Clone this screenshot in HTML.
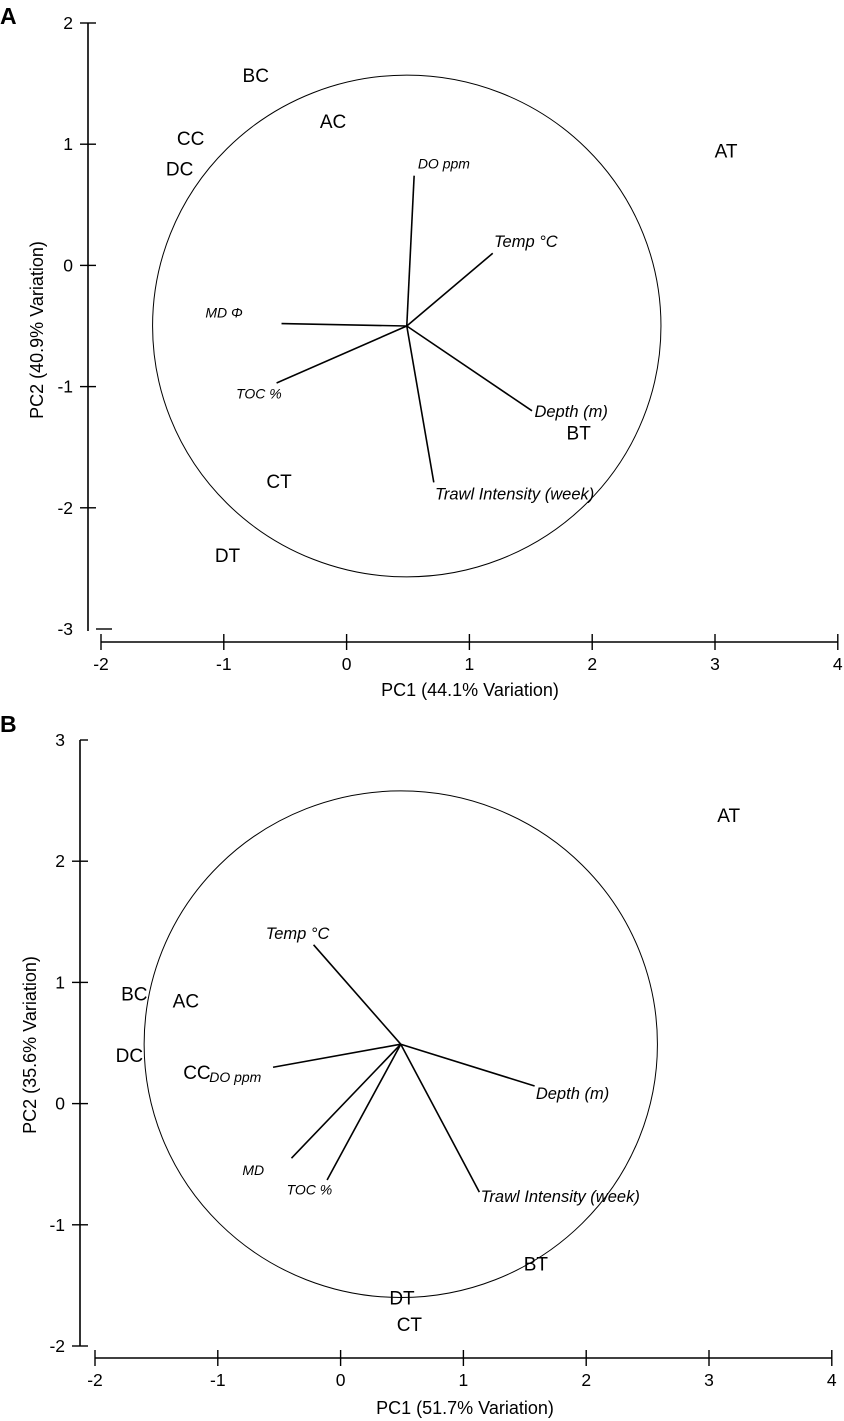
<!DOCTYPE html>
<html><head><meta charset="utf-8">
<style>
html,body{margin:0;padding:0;background:#fff;}
svg{display:block;font-family:"Liberation Sans",Arial,sans-serif;}
</style></head>
<body>
<svg id="fig" width="844" height="1421" viewBox="0 0 844 1421" xmlns="http://www.w3.org/2000/svg">
<text x="0" y="24" font-size="23" font-weight="bold">A</text>
<text x="0" y="732" font-size="23" font-weight="bold">B</text>
</svg>
<script>
// ---- Panel A data ----
const xTicksA = [-2,-1,0,1,2,3,4];
const yTicksA = [2,1,0,-1,-2,-3];
const originA = [0.49,-0.50];
const radiusA = [2.07];
const vecNamesA = ["DO ppm","Temp \u00B0C","MD \u03A6","TOC %","Depth (m)","Trawl Intensity (week)"];
const vecXA = [0.55,1.19,-0.53,-0.57,1.51,0.71];
const vecYA = [0.74,0.10,-0.48,-0.97,-1.20,-1.79];
const vecLabXA = [0.58,1.20,-1.15,-0.90,1.53,0.72];
const vecLabYA = [0.80,0.15,-0.43,-1.10,-1.25,-1.93];
const siteNamesA = ["AT","BC","AC","CC","DC","BT","CT","DT"];
const siteXA = [3.09,-0.74,-0.11,-1.27,-1.36,1.89,-0.55,-0.97];
const siteYA = [0.95,1.57,1.19,1.05,0.80,-1.38,-1.78,-2.39];

// ---- Panel B data ----
const xTicksB = [-2,-1,0,1,2,3,4];
const yTicksB = [3,2,1,0,-1,-2];
const originB = [0.49,0.49];
const radiusB = [2.09];
const vecNamesB = ["Temp \u00B0C","DO ppm","MD","TOC %","Depth (m)","Trawl Intensity (week)"];
const vecXB = [-0.22,-0.55,-0.40,-0.11,1.58,1.13];
const vecYB = [1.31,0.30,-0.45,-0.63,0.145,-0.73];
const vecLabXB = [-0.61,-1.07,-0.80,-0.44,1.59,1.14];
const vecLabYB = [1.36,0.18,-0.59,-0.75,0.04,-0.81];
const siteNamesB = ["AT","BC","AC","DC","CC","BT","DT","CT"];
const siteXB = [3.16,-1.68,-1.26,-1.72,-1.17,1.59,0.50,0.56];
const siteYB = [2.38,0.91,0.85,0.40,0.26,-1.32,-1.60,-1.82];

const NS="http://www.w3.org/2000/svg";
const svg=document.getElementById('fig');
function mk(tag,attrs,parent){const e=document.createElementNS(NS,tag);for(const k in attrs)e.setAttribute(k,attrs[k]);(parent||svg).appendChild(e);return e;}

function panel(p){
  const g=mk('g',{});
  
  
  const X=v=>p.x0+(v-p.xmin)*p.xs;
  const Y=v=>p.y0-(v-p.ymax)*p.ys;
  const ya=mk('line',{x1:p.yAxisX,x2:p.yAxisX,y1:Y(p.yt[0]),y2:p.yAxisEnd,stroke:'#000','stroke-width':1.6},g);
  
  
  p.yt.forEach((t,i)=>{
    const last=i===p.yt.length-1 && p.detachedLast;
    const x1=(i===0&&p.topRightOnly)?p.yAxisX:p.yAxisX-p.tickL;
    const tk=mk('line',{x1:last?p.yAxisX+8:x1,x2:last?p.yAxisX+24:p.yAxisX+p.tickR,y1:Y(t),y2:Y(t),stroke:'#000','stroke-width':1.4},g);
    
    
    const lb=mk('text',{x:p.yLabX,y:Y(t)+6,'font-size':17.5,'text-anchor':'end'},g);
    lb.textContent=t;
    
    
  });
  const xa=mk('line',{x1:X(p.xt[0]),x2:X(p.xt[p.xt.length-1]),y1:p.xAxisY,y2:p.xAxisY,stroke:'#000','stroke-width':1.6},g);
  
  
  p.xt.forEach(t=>{
    const tk=mk('line',{x1:X(t),x2:X(t),y1:p.xAxisY-8,y2:p.xAxisY+8,stroke:'#000','stroke-width':1.4},g);
    
    
    const lb=mk('text',{x:X(t),y:p.xAxisY+28,'font-size':17.5,'text-anchor':'middle'},g);
    lb.textContent=t;
    
    
  });
  const xt=mk('text',{x:p.xTitle[0],y:p.xTitle[1],'font-size':18,'text-anchor':'middle'},g);
  xt.textContent=p.xTitleText;
  
  
  const yt=mk('text',{x:0,y:0,'font-size':18,'text-anchor':'middle',transform:`translate(${p.yTitle[0]},${p.yTitle[1]}) rotate(-90)`},g);
  yt.textContent=p.yTitleText;
  
  
  const c=mk('ellipse',{cx:X(p.origin[0]),cy:Y(p.origin[1]),rx:p.radius[0]*p.xs,ry:p.radius[0]*p.ys,fill:'none',stroke:'#000','stroke-width':1},g);
  
  
  p.vn.forEach((n,i)=>{
    const l=mk('line',{x1:X(p.origin[0]),y1:Y(p.origin[1]),x2:X(p.vx[i]),y2:Y(p.vy[i]),stroke:'#000','stroke-width':1.6},g);
    
    
    const fs = n.length<7 ? 14 : 16.5;
    const t=mk('text',{x:X(p.lx[i]),y:Y(p.ly[i]),'font-size':fs,'font-style':'italic'},g);
    t.textContent=n;
    
    
  });
  p.sn.forEach((n,i)=>{
    const t=mk('text',{x:X(p.sx[i]),y:Y(p.sy[i])+7,'font-size':19,'text-anchor':'middle'},g);
    t.textContent=n;
    
    
  });
}
panel({id:'panel-a',x0:101,xmin:-2,xs:122.8,y0:23,ymax:2,ys:121.2,yt:yTicksA,xt:xTicksA,
  yAxisX:88,yAxisEnd:631,tickL:8,tickR:8,topRightOnly:false,detachedLast:true,yLabX:73,xAxisY:642,
  xTitle:[470,696],xTitleText:'PC1 (44.1% Variation)',yTitle:[43,330],yTitleText:'PC2 (40.9% Variation)',
  origin:originA,radius:radiusA,vn:vecNamesA,vx:vecXA,vy:vecYA,lx:vecLabXA,ly:vecLabYA,sn:siteNamesA,sx:siteXA,sy:siteYA});
panel({id:'panel-b',x0:95,xmin:-2,xs:122.8,y0:740,ymax:3,ys:121.2,yt:yTicksB,xt:xTicksB,
  yAxisX:80,yAxisEnd:1346,tickL:8,tickR:8,topRightOnly:true,detachedLast:false,yLabX:65,xAxisY:1358,
  xTitle:[465,1414],xTitleText:'PC1 (51.7% Variation)',yTitle:[36,1045],yTitleText:'PC2 (35.6% Variation)',
  origin:originB,radius:radiusB,vn:vecNamesB,vx:vecXB,vy:vecYB,lx:vecLabXB,ly:vecLabYB,sn:siteNamesB,sx:siteXB,sy:siteYB});
</script>
</body></html>
